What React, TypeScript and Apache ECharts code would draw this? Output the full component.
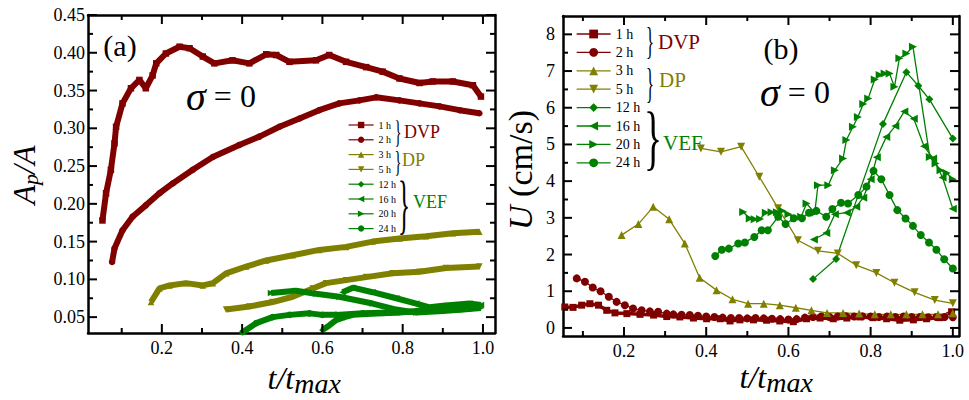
import React, { useEffect, useRef } from "react";
import * as echarts from "echarts";

// ---------- Panel (a): A_p/A versus t/t_max ----------
const a1h = [[0.052,0.178],[0.061,0.214],[0.073,0.245],[0.082,0.28],[0.086,0.302],[0.102,0.333],[0.123,0.353],[0.144,0.364],[0.16,0.353],[0.177,0.37],[0.186,0.386],[0.21,0.399],[0.244,0.408],[0.269,0.406],[0.302,0.395],[0.331,0.386],[0.376,0.39],[0.418,0.386],[0.46,0.398],[0.485,0.397],[0.518,0.388],[0.584,0.39],[0.617,0.397],[0.659,0.388],[0.709,0.381],[0.75,0.375],[0.792,0.366],[0.842,0.36],[0.875,0.362],[0.925,0.362],[0.975,0.357],[0.995,0.342]];
const a2h = [[0.076,0.123],[0.082,0.141],[0.102,0.165],[0.127,0.183],[0.16,0.198],[0.194,0.214],[0.227,0.227],[0.277,0.245],[0.327,0.262],[0.393,0.278],[0.443,0.289],[0.493,0.302],[0.543,0.313],[0.592,0.324],[0.642,0.333],[0.692,0.337],[0.734,0.341],[0.792,0.337],[0.842,0.333],[0.892,0.329],[0.942,0.324],[0.991,0.32]];
const a3h = [[0.173,0.07],[0.194,0.088],[0.219,0.092],[0.26,0.095],[0.302,0.092],[0.327,0.095],[0.36,0.108],[0.41,0.117],[0.46,0.125],[0.526,0.132],[0.592,0.139],[0.659,0.143],[0.725,0.15],[0.792,0.154],[0.858,0.157],[0.925,0.161],[0.991,0.163]];
const a5h = [[0.36,0.06],[0.418,0.064],[0.476,0.07],[0.526,0.077],[0.576,0.088],[0.609,0.095],[0.659,0.099],[0.709,0.103],[0.775,0.108],[0.842,0.11],[0.908,0.115],[0.991,0.117]];
const a12h = [[0.6,0.033],[0.617,0.039],[0.634,0.046],[0.655,0.05],[0.676,0.053],[0.71,0.054],[0.75,0.055],[0.79,0.056],[0.833,0.058],[0.875,0.061],[0.916,0.064],[0.955,0.065],[0.991,0.066]];
const a16h = [[0.65,0.083],[0.676,0.089],[0.725,0.083],[0.784,0.075],[0.834,0.068],[0.867,0.063],[0.9,0.065],[0.966,0.068],[0.995,0.066]];
const a20h = [[0.472,0.082],[0.534,0.085],[0.584,0.081],[0.642,0.077],[0.725,0.068],[0.784,0.06],[0.834,0.056],[0.9,0.058],[0.95,0.06],[0.995,0.062]];
const a24h = [[0.401,0.03],[0.435,0.042],[0.476,0.05],[0.518,0.053],[0.568,0.055],[0.6,0.053],[0.634,0.053],[0.7,0.055],[0.767,0.056],[0.834,0.057],[0.9,0.059],[0.966,0.061]];

// ---------- Panel (b): U (cm/s) versus t/t_max ----------
const b1h = [[0.056,0.57],[0.076,0.56],[0.097,0.62],[0.117,0.66],[0.138,0.62],[0.158,0.48],[0.178,0.41],[0.207,0.39],[0.239,0.37],[0.272,0.35],[0.304,0.31],[0.336,0.3],[0.369,0.27],[0.401,0.25],[0.434,0.25],[0.458,0.19],[0.482,0.22],[0.515,0.22],[0.547,0.21],[0.579,0.19],[0.612,0.17],[0.644,0.25],[0.677,0.27],[0.709,0.25],[0.742,0.27],[0.774,0.3],[0.806,0.28],[0.839,0.25],[0.871,0.21],[0.904,0.22],[0.936,0.25],[0.968,0.28],[0.997,0.44]];
const b2h = [[0.085,1.35],[0.105,1.26],[0.124,1.1],[0.143,1.0],[0.163,0.85],[0.182,0.71],[0.202,0.62],[0.222,0.53],[0.243,0.48],[0.263,0.45],[0.283,0.44],[0.304,0.39],[0.32,0.37],[0.34,0.36],[0.36,0.35],[0.38,0.33],[0.4,0.31],[0.42,0.3],[0.44,0.28],[0.46,0.27],[0.48,0.27],[0.5,0.26],[0.52,0.27],[0.54,0.26],[0.56,0.25],[0.58,0.24],[0.6,0.23],[0.62,0.24],[0.64,0.28],[0.66,0.3],[0.68,0.31],[0.7,0.3],[0.72,0.31],[0.74,0.32],[0.76,0.31],[0.78,0.32],[0.8,0.31],[0.82,0.3],[0.84,0.31],[0.86,0.3],[0.88,0.31],[0.9,0.3],[0.92,0.3],[0.94,0.29],[0.96,0.3],[0.98,0.3],[1.0,0.29]];
const b3h = [[0.194,2.53],[0.235,2.83],[0.271,3.3],[0.31,2.96],[0.348,2.3],[0.384,1.37],[0.425,1.03],[0.464,0.78],[0.502,0.66],[0.54,0.66],[0.579,0.62],[0.618,0.55],[0.656,0.48],[0.694,0.41],[0.733,0.41],[0.772,0.39],[0.81,0.37],[0.849,0.37],[0.887,0.37],[0.926,0.37],[0.964,0.37],[1.0,0.4]];
const b5h = [[0.387,4.89],[0.436,4.8],[0.485,4.94],[0.529,4.12],[0.575,3.26],[0.623,2.39],[0.672,2.1],[0.72,2.03],[0.765,1.71],[0.814,1.5],[0.858,1.23],[0.907,0.97],[0.956,0.76],[1.0,0.67]];
const b12h = [[0.66,1.33],[0.716,1.88],[0.83,5.56],[0.887,6.97],[0.916,6.6],[0.943,6.23],[1.0,5.16]];
const b16h = [[0.662,2.41],[0.692,2.59],[0.713,3.1],[0.742,3.14],[0.765,3.3],[0.782,3.55],[0.8,4.05],[0.815,4.65],[0.838,5.2],[0.86,5.5],[0.882,5.9],[0.905,5.7],[0.93,4.95],[0.952,4.62],[0.975,4.1],[1.0,3.25]];
const b20h = [[0.49,3.16],[0.506,2.98],[0.518,2.96],[0.531,2.97],[0.545,3.14],[0.559,3.15],[0.572,3.15],[0.585,3.19],[0.6,3.1],[0.615,2.98],[0.631,3.03],[0.644,3.39],[0.664,3.14],[0.672,3.89],[0.697,3.89],[0.713,4.3],[0.733,4.62],[0.741,5.12],[0.757,5.48],[0.769,5.75],[0.782,6.1],[0.794,6.25],[0.81,6.77],[0.822,6.89],[0.834,6.93],[0.846,6.93],[0.858,6.57],[0.87,7.35],[0.887,7.48],[0.903,7.66],[0.944,4.66],[0.958,4.48],[0.97,4.3],[0.985,4.22],[1.0,4.05]];
const b24h = [[0.422,1.96],[0.438,2.13],[0.455,2.16],[0.478,2.3],[0.494,2.33],[0.517,2.48],[0.535,2.66],[0.55,2.66],[0.575,3.03],[0.593,2.83],[0.613,2.99],[0.633,2.99],[0.65,3.14],[0.668,3.19],[0.692,3.03],[0.707,3.24],[0.728,3.41],[0.745,3.39],[0.77,3.62],[0.79,3.85],[0.807,4.28],[0.826,4.05],[0.846,3.62],[0.865,3.21],[0.885,2.98],[0.903,2.78],[0.922,2.53],[0.942,2.33],[0.96,2.13],[0.979,1.87],[1.0,1.62]];

// ---------- Names and ticks ----------
const seriesNames = ["1 h", "2 h", "3 h", "5 h", "12 h", "16 h", "20 h", "24 h"];
const groupNames = ["DVP", "DP", "VEF"];
const aXMajor = [0.2, 0.4, 0.6, 0.8, 1.0];
const aXMinor = [0.1, 0.3, 0.5, 0.7, 0.9];
const aYMajor = [0.05, 0.1, 0.15, 0.2, 0.25, 0.3, 0.35, 0.4, 0.45];
const aYMinor = [0.075, 0.125, 0.175, 0.225, 0.275, 0.325, 0.375, 0.425];
const bXMajor = [0.2, 0.4, 0.6, 0.8, 1.0];
const bXMinor = [0.1, 0.3, 0.5, 0.7, 0.9];
const bYMajor = [0, 1, 2, 3, 4, 5, 6, 7, 8];
const bYMinor = [0.5, 1.5, 2.5, 3.5, 4.5, 5.5, 6.5, 7.5];

const FONT = "'Liberation Serif', 'Times New Roman', serif";
const C_DVP = "#800000";
const C_DP = "#808000";
const C_VEF = "#008000";

const SYM_DOWN = "path://M0,0 L10,0 L5,10 Z";
const SYM_LEFT = "path://M10,0 L10,10 L0,5 Z";
const SYM_RIGHT = "path://M0,0 L10,5 L0,10 Z";

const styles = [
  { color: C_DVP, symbol: "rect" },
  { color: C_DVP, symbol: "circle" },
  { color: C_DP, symbol: "triangle" },
  { color: C_DP, symbol: SYM_DOWN },
  { color: C_VEF, symbol: "diamond" },
  { color: C_VEF, symbol: SYM_LEFT },
  { color: C_VEF, symbol: SYM_RIGHT },
  { color: C_VEF, symbol: "circle" },
];

function mkAxes(dim: string, gridIndex: number, min: number, max: number, majors: number[], fmt: (v: number) => string, margin: number) {
  const posMain = dim === "x" ? "bottom" : "left";
  const posOpp = dim === "x" ? "top" : "right";
  const base = { type: "value", gridIndex, min, max, splitLine: { show: false }, axisPointer: { show: false }, axisTick: { show: false } };
  const line = { show: true, onZero: false, lineStyle: { color: "#000", width: 2.5 } };
  return [
    { ...base, position: posMain, axisLine: line, axisLabel: { show: true, customValues: majors, formatter: (v: number) => fmt(v), margin, fontSize: 18, fontFamily: FONT, color: "#000" } },
    { ...base, position: posOpp, axisLine: line, axisLabel: { show: false } },
  ];
}

// Inside tick marks drawn as tiny two-point line series on the panel's own axes
let tickId = 0;
function tickSeries(ai: number, xr: number[], yr: number[], main: any, xs: number[], ys: number[], len: number) {
  const dx = (len * (xr[1] - xr[0])) / main.width;
  const dy = (len * (yr[1] - yr[0])) / main.height;
  const out: any[] = [];
  const mk = (data: number[][]) => ({
    type: "line", name: "tick" + tickId++, xAxisIndex: ai, yAxisIndex: ai, data,
    symbol: "none", silent: true, clip: false, z: 10, legendHoverLink: false,
    lineStyle: { color: "#000", width: 2 }, itemStyle: { color: "#000" }, emphasis: { disabled: true },
  });
  xs.forEach((v) => {
    out.push(mk([[v, yr[0]], [v, yr[0] + dy]]));
    out.push(mk([[v, yr[1]], [v, yr[1] - dy]]));
  });
  ys.forEach((v) => {
    out.push(mk([[xr[0], v], [xr[0] + dx, v]]));
    out.push(mk([[xr[1], v], [xr[1] - dx, v]]));
  });
  return out;
}

function txt(x: number, y: number, text: string, size: number, color: string, opts: any = {}) {
  return {
    type: "text", x, y, silent: true, ...(opts.el || {}),
    style: { text, fontSize: size, fontFamily: FONT, fill: color, align: opts.align || "center", verticalAlign: "middle", fontStyle: opts.italic ? "italic" : "normal", ...(opts.style || {}) },
  };
}

function brace(cx: number, cy: number, h: number, w: number) {
  const fs = 40;
  return txt(cx, cy, "}", fs, "#000", { el: { scaleX: w / (0.48 * fs), scaleY: h / (0.86 * fs) } });
}

function sigma(x: number, y: number) {
  return {
    type: "text", x, y, silent: true,
    style: { text: "{i|σ}{n| = 0}", align: "center", verticalAlign: "middle", rich: { i: { fontSize: 40, fontFamily: FONT, fontStyle: "italic", fill: "#000" }, n: { fontSize: 32, fontFamily: FONT, fill: "#000" } } },
  };
}

export default function App() {
  const ref = useRef<HTMLDivElement>(null);
  useEffect(() => {
    if (!ref.current) return;
    const chart = echarts.init(ref.current, undefined, { renderer: "svg" });
    const aData = [a1h, a2h, a3h, a5h, a12h, a16h, a20h, a24h];
    const bData = [b1h, b2h, b3h, b5h, b12h, b16h, b20h, b24h];
    const series: any[] = [];
    aData.forEach((d, i) => {
      series.push({
        type: "line", name: seriesNames[i], xAxisIndex: 0, yAxisIndex: 0, data: d,
        symbol: styles[i].symbol, symbolSize: 6.5, showAllSymbol: true,
        lineStyle: { color: styles[i].color, width: 6 }, itemStyle: { color: styles[i].color },
        emphasis: { disabled: true }, silent: true,
      });
    });
    bData.forEach((d, i) => {
      series.push({
        type: "line", name: seriesNames[i], xAxisIndex: 2, yAxisIndex: 2, data: d,
        symbol: styles[i].symbol, symbolSize: i === 0 ? 7 : 8, showAllSymbol: true,
        lineStyle: { color: styles[i].color, width: i === 0 ? 3.5 : 1.3 }, itemStyle: { color: styles[i].color },
        emphasis: { disabled: true }, silent: true,
      });
    });
    const aX = [0.016, 1.03];
    const aY = [0.029, 0.45];
    const bX = [0.0516, 1.015];
    const bY = [-0.22, 8.5];
    const gA = { left: 88, top: 15, width: 407, height: 318, containLabel: false, outerBoundsMode: "none" };
    const gB = { left: 563, top: 16, width: 396, height: 320, containLabel: false, outerBoundsMode: "none" };
    series.push(
      ...tickSeries(0, aX, aY, gA, aXMajor, aYMajor, 9),
      ...tickSeries(0, aX, aY, gA, aXMinor, aYMinor, 5),
      ...tickSeries(2, bX, bY, gB, bXMajor, bYMajor, 9),
      ...tickSeries(2, bX, bY, gB, bXMinor, bYMinor, 5),
    );
    const f2 = (v: number) => v.toFixed(2);
    const f1 = (v: number) => v.toFixed(1);
    const f0 = (v: number) => String(Math.round(v));

    const texts: any[] = [
      txt(120, 45, "(a)", 30, "#000"),
      txt(781, 48, "(b)", 30, "#000"),
      sigma(221, 96),
      sigma(795, 92),
      {
        type: "group", x: 24, y: 175, rotation: Math.PI / 2, silent: true,
        children: [
          txt(-29.5, 0, "A", 32, "#000", { italic: true, align: "left" }),
          txt(-9.9, 6, "p", 22, "#000", { italic: true, align: "left" }),
          txt(1.1, 0, "/", 32, "#000", { italic: true, align: "left" }),
          txt(10, 0, "A", 32, "#000", { italic: true, align: "left" }),
        ],
      },
      {
        type: "group", x: 520, y: 170, rotation: Math.PI / 2, silent: true,
        children: [
          {
            type: "text", x: 0, y: 0,
            style: { text: "{i|U}{n| (cm/s)}", align: "center", verticalAlign: "middle", rich: { i: { fontSize: 34, fontFamily: FONT, fontStyle: "italic", fill: "#000" }, n: { fontSize: 34, fontFamily: FONT, fill: "#000" } } },
          },
        ],
      },
      txt(267.5, 378, "t/t", 32, "#000", { italic: true, align: "left" }),
      txt(294.2, 383, "max", 28, "#000", { italic: true, align: "left" }),
      txt(739.5, 377, "t/t", 32, "#000", { italic: true, align: "left" }),
      txt(766.2, 382, "max", 28, "#000", { italic: true, align: "left" }),
      brace(398, 132, 27, 7),
      brace(398, 162, 25, 7),
      brace(404, 204, 56, 12),
      txt(404, 132, groupNames[0], 18, C_DVP, { align: "left" }),
      txt(402, 160, groupNames[1], 18, C_DP, { align: "left" }),
      txt(413, 202, groupNames[2], 18, C_VEF, { align: "left" }),
      brace(650, 41, 33, 8),
      brace(650, 82, 37, 8),
      brace(653, 137, 62, 18),
      txt(658, 42, groupNames[0], 21, C_DVP, { align: "left" }),
      txt(659, 80, groupNames[1], 21, C_DP, { align: "left" }),
      txt(663, 143, groupNames[2], 21, C_VEF, { align: "left" }),
    ];
    const option: any = {
      animation: false,
      backgroundColor: "#fff",
      grid: [gA, gB],
      xAxis: [...mkAxes("x", 0, aX[0], aX[1], aXMajor, f1, 6), ...mkAxes("x", 1, bX[0], bX[1], bXMajor, f1, 6)],
      yAxis: [...mkAxes("y", 0, aY[0], aY[1], aYMajor, f2, 3), ...mkAxes("y", 1, bY[0], bY[1], bYMajor, f0, 8)],
      legend: [
        {
          orient: "vertical", left: 348, top: 120, itemWidth: 25, itemHeight: 8, itemGap: 4.8,
          data: seriesNames, selectedMode: false, padding: 0,
          textStyle: { fontSize: 10, lineHeight: 10, fontFamily: FONT, color: "#000" },
          lineStyle: { width: 1.2 },
        },
        {
          orient: "vertical", left: 576, top: 27, itemWidth: 34, itemHeight: 11, itemGap: 4.4,
          data: seriesNames, selectedMode: false, padding: 0,
          textStyle: { fontSize: 14, lineHeight: 14, fontFamily: FONT, color: "#000" },
          lineStyle: { width: 1.3 },
        },
      ],
      graphic: texts,
      series,
    };
    chart.setOption(option);
    return () => chart.dispose();
  }, []);
  return <div ref={ref} style={{ position: "absolute", left: 0, top: 0, width: 969, height: 400, background: "#fff" }} />;
}
